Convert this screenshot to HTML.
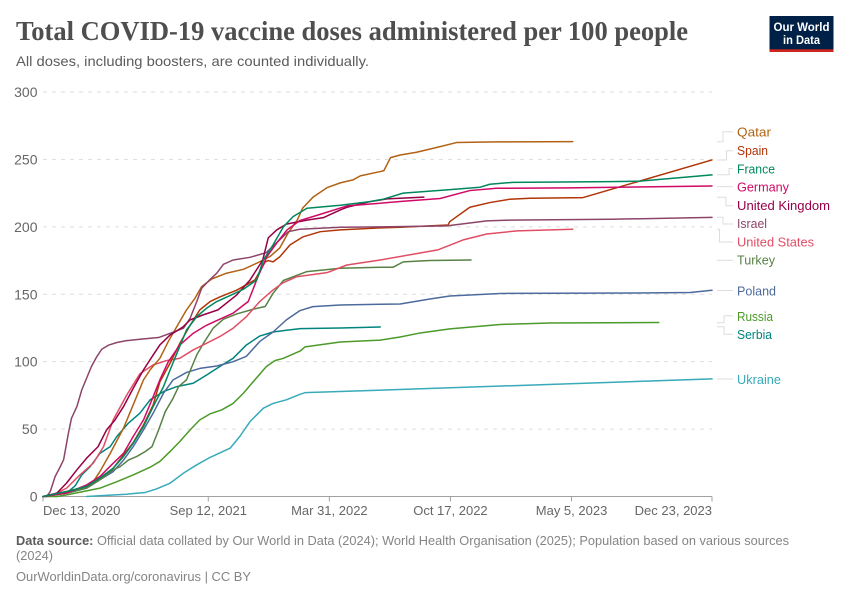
<!DOCTYPE html>
<html lang="en">
<head>
<meta charset="utf-8">
<title>Total COVID-19 vaccine doses administered per 100 people</title>
<style>
  html, body { margin: 0; padding: 0; background: #fff; }
  svg { display: block; font-family: "Liberation Sans", sans-serif; }
</style>
</head>
<body>
<svg id="chart" width="850" height="600" viewBox="0 0 850 600" xmlns="http://www.w3.org/2000/svg">
  <rect width="850" height="600" fill="#fff"/>
  <text x="16" y="40" font-family="'Liberation Serif', serif" font-weight="700" font-size="27" fill="#4e4e4e" textLength="672" lengthAdjust="spacingAndGlyphs">Total COVID-19 vaccine doses administered per 100 people</text>
  <text x="16" y="66" font-size="14" fill="#5b5b5b" textLength="353" lengthAdjust="spacingAndGlyphs">All doses, including boosters, are counted individually.</text>

  <g>
    <rect x="769.5" y="16" width="64" height="36" fill="#002147"/>
    <rect x="769.5" y="49.3" width="64" height="2.7" fill="#ce261e"/>
    <text x="801.5" y="31" font-size="12" font-weight="700" fill="#fff" text-anchor="middle" textLength="56" lengthAdjust="spacingAndGlyphs">Our World</text>
    <text x="801.5" y="44" font-size="12" font-weight="700" fill="#fff" text-anchor="middle" textLength="37" lengthAdjust="spacingAndGlyphs">in Data</text>
  </g>

  <g id="grid"></g>
  <g id="y-labels"></g>
  <g id="x-axis"></g>
  <g id="lines" fill="none" stroke-width="1.5" stroke-linejoin="round" stroke-linecap="round"></g>

  <g fill="none" stroke="#ddd" stroke-width="1">
    <path d="M717 141.7H723V131.7H733"/>
    <path d="M717 160H726.5V150.7H733"/>
    <path d="M717 174.7H729V168.5H733"/>
    <path d="M717 186.7H733"/>
    <path d="M717 197.3H726V205.7H733"/>
    <path d="M717 217.3H723V224H733"/>
    <path d="M717 229.3H719.5V242H733"/>
    <path d="M717 260.3H733"/>
    <path d="M717 290.5H733"/>
    <path d="M717 322.7H724V315.7H733"/>
    <path d="M717 326.7H724V334.3H733"/>
    <path d="M717 379H733"/>
  </g>

  <g font-size="13">
    <text x="737" y="136.5" fill="#b16214" textLength="34" lengthAdjust="spacingAndGlyphs">Qatar</text>
    <text x="737" y="155" fill="#b13507" textLength="31" lengthAdjust="spacingAndGlyphs">Spain</text>
    <text x="737" y="173.3" fill="#00875e" textLength="38" lengthAdjust="spacingAndGlyphs">France</text>
    <text x="737" y="191.5" fill="#cf0a66" textLength="52" lengthAdjust="spacingAndGlyphs">Germany</text>
    <text x="737" y="209.8" fill="#970046" textLength="93" lengthAdjust="spacingAndGlyphs">United Kingdom</text>
    <text x="737" y="228" fill="#8c4569" textLength="30" lengthAdjust="spacingAndGlyphs">Israel</text>
    <text x="737" y="246.3" fill="#e04e64" textLength="77" lengthAdjust="spacingAndGlyphs">United States</text>
    <text x="737" y="264.6" fill="#578145" textLength="38" lengthAdjust="spacingAndGlyphs">Turkey</text>
    <text x="737" y="295.5" fill="#4c6a9c" textLength="39" lengthAdjust="spacingAndGlyphs">Poland</text>
    <text x="737" y="321" fill="#4c9a2a" textLength="36" lengthAdjust="spacingAndGlyphs">Russia</text>
    <text x="737" y="339" fill="#00847e" textLength="35" lengthAdjust="spacingAndGlyphs">Serbia</text>
    <text x="737" y="384" fill="#38aaba" textLength="44" lengthAdjust="spacingAndGlyphs">Ukraine</text>
  </g>

  <text x="16" y="545" font-size="13" fill="#858585" textLength="773" lengthAdjust="spacingAndGlyphs"><tspan font-weight="700" fill="#5b5b5b">Data source:</tspan> Official data collated by Our World in Data (2024); World Health Organisation (2025); Population based on various sources</text>
  <text x="16" y="560" font-size="13" fill="#858585" textLength="37" lengthAdjust="spacingAndGlyphs">(2024)</text>
  <text x="16" y="581" font-size="13" fill="#858585" textLength="235" lengthAdjust="spacingAndGlyphs">OurWorldinData.org/coronavirus | CC BY</text>
</svg>

<script>
// Axis data (x values are days since Dec 13, 2020)
const yTicks = [0, 50, 100, 150, 200, 250, 300];
const xTickDays = [0, 273, 473, 673, 873, 1105];
const xTickLabels = ["Dec 13, 2020", "Sep 12, 2021", "Mar 31, 2022", "Oct 17, 2022", "May 5, 2023", "Dec 23, 2023"];
const xDomain = [0, 1105];
const yDomain = [0, 300];

// Series values: doses per 100 people
const ukraineDays = [72,111,138,169,188,210,232,254,276,309,325,342,364,380,402,425,433,1105];
const ukraineValues = [0,1,1.7,3,5.7,9.9,17.3,23.5,29,35.8,44.5,55.6,65.5,69,71.7,75.9,77,87.2];

const serbiaDays = [42,53,64,78,94,111,122,141,160,177,199,221,248,270,292,314,336,358,380,402,425,491,557];
const serbiaValues = [3.7,7.9,16,22.2,32,37,44.5,54.4,61.8,71.7,77.8,81.5,84,90,96.4,102.5,112.4,119,122,123.3,124.5,125,125.7];

const russiaDays = [0,23,39,67,94,122,149,177,193,210,226,243,259,276,295,314,331,347,369,383,397,425,433,491,557,590,623,672,755,837,1017];
const russiaValues = [0,0,1.2,3.7,6.2,11,16,21.7,26,33.4,40.8,49.4,56.8,61.3,64.2,69,76.6,85,96.4,100.8,102.5,108,111,114.6,116,118.3,121.3,124.3,127.6,128.7,129];

const polandDays = [0,39,72,94,116,133,149,166,182,199,215,237,259,287,314,336,358,380,402,424,446,491,557,590,639,672,755,1003,1069,1105];
const polandValues = [0,2.5,6.2,12.4,18.5,27,37,49.4,61.8,76.6,86.5,92,95,96.8,100,104,115,122,131,137.8,140.8,142,142.6,142.8,146.5,148.7,150.6,151,151.3,153];

const turkeyDays = [0,39,72,94,116,127,141,155,169,180,191,202,215,224,237,246,254,265,281,298,320,347,367,380,397,436,491,557,578,595,639,707];
const turkeyValues = [0,2.5,6.2,12.4,19.8,22,27,29.7,33.4,37,49.4,63,73,81.5,86.5,96.4,105,113.6,124.8,131.5,135.4,138.9,140.9,150.7,160.2,166.8,169.3,170,170,174,175,175.4];

const unitedStatesDays = [0,17,39,61,83,100,116,138,160,182,204,226,248,270,292,314,336,358,380,396,419,469,502,557,652,694,733,783,875];
const unitedStatesValues = [0,1.2,6.2,16,24.7,37,56.8,75,91,97.6,100.8,102.5,108.7,113.6,118.6,124.8,133.4,144.6,153.2,158.4,163,166,171.7,175.4,182.9,190.3,194.7,197,198.2];

const spainDays = [0,39,72,94,116,149,166,182,193,210,226,243,259,276,292,320,350,367,372,380,391,408,429,458,491,557,590,669,672,705,738,771,804,892,1105];
const spainValues = [0,3.7,7.4,13.6,21,40,53,68,85,99,113.6,127,138.4,144.6,148,153,160.6,174,175,174,177.7,186.6,192.5,196.4,197.7,199.2,199.7,201.4,203.9,214.5,218,220.5,221.2,221.7,249.6];

const qatarDays = [83,94,111,133,149,166,177,193,207,221,237,251,262,279,303,331,353,369,375,391,405,420,429,446,469,491,512,524,557,563,574,590,617,656,683,749,875];
const qatarValues = [11,18.5,32,50.7,68,86.5,94,102.5,115,126,138.4,147,155.7,161.4,165.6,168.5,173,176.7,178,184.3,195.5,205,214,222,229,232.6,234.8,237.8,241,241.7,251.3,253.3,255.3,259.5,262.5,263,263.2];

const israelDays = [0,6,12,20,28,34,42,47,56,64,72,80,89,97,108,122,138,160,191,210,232,243,254,262,276,287,298,314,342,369,405,424,491,557,667,733,771,937,1105];
const israelValues = [0,0,3.7,14.8,21.7,27.2,47,58,66.7,79,87.7,96.4,103.8,109.2,112.2,114.2,115.6,116.6,117.9,121,124.8,132.2,144.6,154.4,161,165.6,172.2,175.4,177.4,180.9,196.4,198.2,199.7,200,200.7,204.4,205,205.6,207];

const unitedKingdomDays = [0,23,39,56,72,91,105,119,133,149,166,182,193,210,231,243,264,289,320,342,363,372,386,402,436,463,491,502,540,568,629];
const unitedKingdomValues = [0,2.5,10,19.8,28.4,37,49.4,56.8,66.7,80.3,93.9,105,112.4,119.8,125.7,131,134.6,138.4,149.5,160.6,175.4,191.8,197.7,202,205,206.8,212.5,214.5,218.7,220.7,222];

const germanyDays = [0,39,72,94,116,133,149,166,182,193,207,226,248,270,292,314,339,355,370,386,403,424,463,502,557,595,656,705,749,870,1105];
const germanyValues = [0,2.5,8.6,14.8,24.7,32,44.5,56.8,74,86.5,100,112.4,121,127,131.5,136,144.6,163,178,188,197.7,204.6,210,215.5,217.5,219,221,226.9,228.6,228.9,230.3];

const franceDays = [0,39,72,94,116,133,149,166,182,199,210,221,237,254,270,287,309,331,353,364,380,397,413,436,491,540,562,595,667,722,738,776,937,986,1105];
const franceValues = [0,3.7,7.4,13.6,21,29.7,39.5,51.9,66.7,81.5,93.9,106,123.5,133.4,139.6,144.6,149,153.7,160.6,175.4,186.6,200,207.6,213.8,216,218.7,220.5,225,227.4,229.4,231.6,233,233.5,233.9,238.5];

const seriesNames = ["Ukraine","Serbia","Russia","Poland","Turkey","United States","Spain","Qatar","Israel","United Kingdom","Germany","France"];
const seriesDays = [ukraineDays, serbiaDays, russiaDays, polandDays, turkeyDays, unitedStatesDays, spainDays, qatarDays, israelDays, unitedKingdomDays, germanyDays, franceDays];
const seriesValues = [ukraineValues, serbiaValues, russiaValues, polandValues, turkeyValues, unitedStatesValues, spainValues, qatarValues, israelValues, unitedKingdomValues, germanyValues, franceValues];
const seriesColors = ["#38aaba","#00847e","#4c9a2a","#4c6a9c","#578145","#e04e64","#b13507","#b16214","#8c4569","#970046","#cf0a66","#00875e"];

const NS = "http://www.w3.org/2000/svg";
const plot = { left: 43, right: 712, top: 92, bottom: 496.5 };
function xScale(d) { return plot.left + (d - xDomain[0]) / (xDomain[1] - xDomain[0]) * (plot.right - plot.left); }
function yScale(v) { return plot.bottom - (v - yDomain[0]) / (yDomain[1] - yDomain[0]) * (plot.bottom - plot.top); }
function slug(s) { return s.toLowerCase().replace(/[^a-z0-9]+/g, "-"); }

const gridGroup = document.getElementById("grid");
const yLabelGroup = document.getElementById("y-labels");
yTicks.forEach(function (t) {
  if (t > 0) {
    const line = document.createElementNS(NS, "line");
    
    
    line.setAttribute("x1", plot.left);
    line.setAttribute("x2", plot.right);
    line.setAttribute("y1", yScale(t));
    line.setAttribute("y2", yScale(t));
    line.setAttribute("stroke", "#dddddd");
    line.setAttribute("stroke-dasharray", "4 5");
    gridGroup.appendChild(line);
  }
  const label = document.createElementNS(NS, "text");
  
  
  label.setAttribute("x", 37.5);
  label.setAttribute("y", yScale(t) + 5);
  label.setAttribute("text-anchor", "end");
  label.setAttribute("font-size", "14");
  label.setAttribute("fill", "#666666");
  label.textContent = String(t);
  yLabelGroup.appendChild(label);
});

const xGroup = document.getElementById("x-axis");
const baseline = document.createElementNS(NS, "line");


baseline.setAttribute("x1", plot.left);
baseline.setAttribute("x2", plot.right);
baseline.setAttribute("y1", plot.bottom);
baseline.setAttribute("y2", plot.bottom);
baseline.setAttribute("stroke", "#a1a1a1");
xGroup.appendChild(baseline);

xTickDays.forEach(function (d, i) {
  const tick = document.createElementNS(NS, "line");
  
  
  tick.setAttribute("x1", xScale(d));
  tick.setAttribute("x2", xScale(d));
  tick.setAttribute("y1", plot.bottom);
  tick.setAttribute("y2", plot.bottom + 5);
  tick.setAttribute("stroke", "#a1a1a1");
  xGroup.appendChild(tick);

  const label = document.createElementNS(NS, "text");
  
  
  label.setAttribute("x", xScale(d));
  label.setAttribute("y", 515);
  label.setAttribute("font-size", "13");
  label.setAttribute("fill", "#666666");
  label.setAttribute("text-anchor", i === 0 ? "start" : i === xTickDays.length - 1 ? "end" : "middle");
  label.textContent = xTickLabels[i];
  xGroup.appendChild(label);
});

const lineGroup = document.getElementById("lines");
seriesNames.forEach(function (name, i) {
  const points = seriesDays[i].map(function (d, j) {
    return xScale(d).toFixed(2) + "," + yScale(seriesValues[i][j]).toFixed(2);
  });
  const path = document.createElementNS(NS, "polyline");
  
  
  path.setAttribute("points", points.join(" "));
  path.setAttribute("stroke", seriesColors[i]);
  lineGroup.appendChild(path);
});
</script>
</body>
</html>
